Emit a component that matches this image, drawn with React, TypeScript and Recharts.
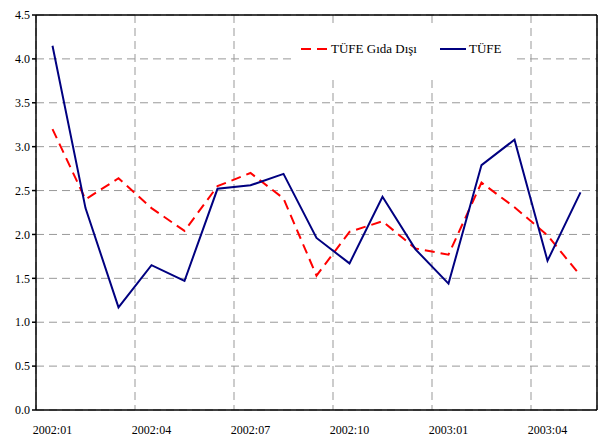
import { LineChart, Line, XAxis, YAxis, CartesianGrid, ReferenceLine } from 'recharts';

const months = [
    '2002:01', '2002:02', '2002:03', '2002:04', '2002:05', '2002:06', '2002:07', '2002:08', '2002:09',
    '2002:10', '2002:11', '2002:12', '2003:01', '2003:02', '2003:03', '2003:04', '2003:05',
];
const tufe = [4.15, 2.30, 1.17, 1.65, 1.47, 2.52, 2.56, 2.69, 1.96, 1.67, 2.43, 1.83, 1.44, 2.79, 3.08, 1.70, 2.48];
const tufeGidaDisi = [3.20, 2.40, 2.64, 2.30, 2.04, 2.55, 2.70, 2.41, 1.53, 2.03, 2.15, 1.84, 1.77, 2.59, 2.31, 1.99, 1.53];

const yTicks = [0, 0.5, 1, 1.5, 2, 2.5, 3, 3.5, 4, 4.5];
const labelTicks = [0, 3, 6, 9, 12, 15];
const boundaryTicks = Array.from({ length: 18 }, (_, i) => i - 0.5);
const gridTicks = [2.5, 5.5, 8.5, 11.5, 14.5];

const data = months.map((m, i) => ({ idx: i, month: m, tufe: tufe[i], gida: tufeGidaDisi[i] }));

const FONT = '"Liberation Serif", "Times New Roman", serif';

const LegendBox = () => (
    <div
        style={{
            position: 'absolute', left: 293, top: 23, width: 219, height: 54,
            background: '#fff', fontFamily: FONT, fontSize: 13, color: '#000',
        }}
    >
        <svg width={219} height={54} style={{ position: 'absolute', left: 0, top: 0 }}>
            <line x1={8} y1={26} x2={36} y2={26} stroke="#ff0000" strokeWidth={2} strokeDasharray="10 6" />
            <text x={38} y={30} fontFamily={FONT} fontSize={13}>TÜFE Gıda Dışı</text>
            <line x1={147} y1={26} x2={173} y2={26} stroke="#000080" strokeWidth={2} />
            <text x={176} y={30} fontFamily={FONT} fontSize={13}>TÜFE</text>
        </svg>
    </div>
);

export default function App() {
    return (
        <div style={{ position: 'absolute', left: 0, top: 0, width: 599, height: 438, background: '#fff' }}>
            <LineChart width={599} height={438} data={data} margin={{ top: 15, right: 2, bottom: 0, left: 0 }}>
                <CartesianGrid xAxisId="c_grid" stroke="#999" strokeDasharray="8 5" />
                <XAxis
                    xAxisId="a_marks" dataKey="idx" type="number" domain={[-0.5, 16.5]} ticks={boundaryTicks}
                    tick={false} tickSize={4} height={5} stroke="#000" strokeWidth={1.5} interval={0}
                />
                <XAxis
                    xAxisId="b_labels" dataKey="idx" type="number" domain={[-0.5, 16.5]} ticks={labelTicks}
                    tickFormatter={(v: number) => months[v]} axisLine={false} tickLine={false} height={23}
                    tickSize={0} tickMargin={10} interval={0}
                    tick={{ fill: '#000', fontFamily: FONT, fontSize: 12 }}
                />
                <XAxis
                    xAxisId="c_grid" dataKey="idx" type="number" domain={[-0.5, 16.5]} ticks={gridTicks}
                    orientation="top" height={0} hide
                />
                <YAxis
                    domain={[0, 4.5]} ticks={yTicks} width={36} tickSize={4} interval={0}
                    tickFormatter={(v: number) => v.toFixed(1)} stroke="#000" strokeWidth={1.5}
                    tick={{ fill: '#000', fontFamily: FONT, fontSize: 12 }}
                />
                <ReferenceLine xAxisId="a_marks" y={4.5} stroke="#000" strokeWidth={1.5} />
                <ReferenceLine xAxisId="a_marks" x={16.5} stroke="#000" strokeWidth={1.5} />
                <Line
                    xAxisId="a_marks" dataKey="gida" type="linear" stroke="#ff0000" strokeWidth={2}
                    strokeDasharray="10 6" dot={false} isAnimationActive={false}
                />
                <Line
                    xAxisId="a_marks" dataKey="tufe" type="linear" stroke="#000080" strokeWidth={2}
                    dot={false} isAnimationActive={false}
                />
            </LineChart>
            <LegendBox />
        </div>
    );
}
